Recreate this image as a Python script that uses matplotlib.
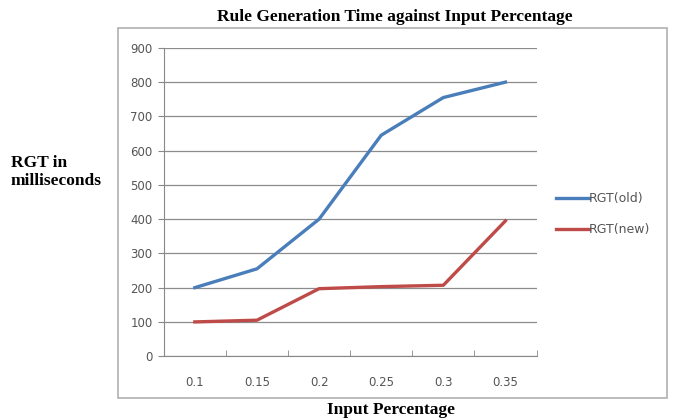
import matplotlib.pyplot as plt
from matplotlib.patches import Rectangle

# data
categories = ['0.1', '0.15', '0.2', '0.25', '0.3', '0.35']
rgt_old = [200, 255, 400, 645, 755, 800]
rgt_new = [100, 105, 197, 203, 207, 395]
y_ticks = [0, 100, 200, 300, 400, 500, 600, 700, 800, 900]

fig = plt.figure(figsize=(6.74, 4.2), dpi=100)

# outer chart border
fig.patches.append(Rectangle((0.175, 0.052), 0.815, 0.881, transform=fig.transFigure,
                             fill=False, edgecolor='#b0b0b0', linewidth=1.2))

ax = fig.add_axes([0.243, 0.152, 0.553, 0.734])
x = list(range(len(categories)))
ax.plot(x, rgt_old, color='#4a7ebb', linewidth=2.4, label='RGT(old)')
ax.plot(x, rgt_new, color='#be4b48', linewidth=2.4, label='RGT(new)')

ax.set_xlim(-0.5, len(categories) - 0.5)
ax.set_ylim(0, 900)
ax.set_yticks(y_ticks)
ax.set_yticklabels([str(v) for v in y_ticks], fontsize=8.5, color='#555555')
ax.set_xticks(x)
ax.set_xticklabels(categories, fontsize=8.5, color='#555555')
ax.tick_params(axis='x', length=0, pad=14)
ax.set_xticks([i - 0.5 for i in range(len(categories) + 1)], minor=True)
ax.tick_params(axis='x', which='minor', length=4, color='#888888', direction='in')
ax.tick_params(axis='y', length=4, color='#888888', pad=4)
ax.grid(axis='y', color='#8c8c8c', linewidth=0.9)
ax.set_axisbelow(True)
for s in ['top', 'right']:
    ax.spines[s].set_visible(False)
ax.spines['left'].set_color('#888888')
ax.spines['bottom'].set_color('#888888')

fig.text(0.586, 0.96, 'Rule Generation Time against Input Percentage', ha='center', va='center',
         fontsize=12.5, fontweight='bold', family='Liberation Serif')
fig.text(0.58, 0.024, 'Input Percentage', ha='center', va='center',
         fontsize=12.5, fontweight='bold', family='Liberation Serif')
fig.text(0.016, 0.59, 'RGT in\nmilliseconds', ha='left', va='center', linespacing=1.2,
         fontsize=12.5, fontweight='bold', family='Liberation Serif')

leg = fig.legend(loc='center left', bbox_to_anchor=(0.825, 0.49), frameon=False, fontsize=9,
                 handlelength=2.6, handletextpad=0.05, labelspacing=1.4, borderpad=0,
                 borderaxespad=0)
for t in leg.get_texts():
    t.set_color('#555555')

fig.savefig('out.png', dpi=100)
